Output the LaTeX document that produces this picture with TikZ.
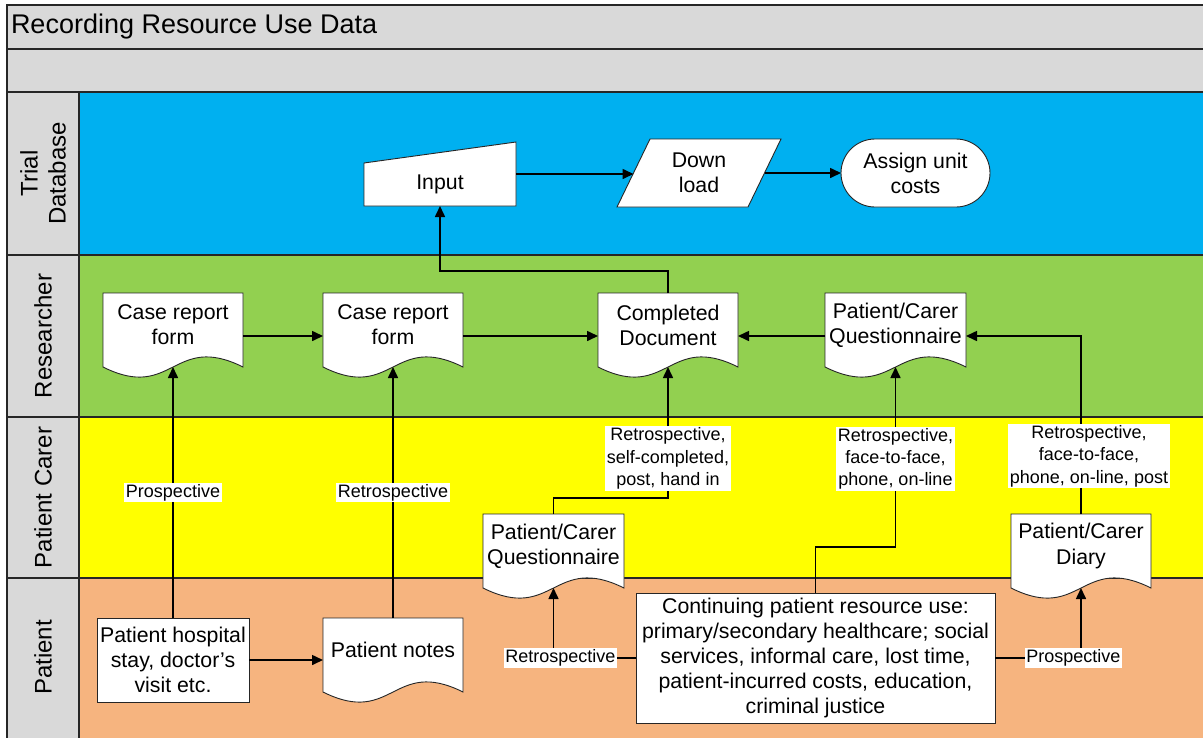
\documentclass[tikz,border=0pt]{standalone}
\usepackage{fontspec}
\setmainfont{Liberation Sans}
\usetikzlibrary{arrows.meta,calc}
\definecolor{lblue}{HTML}{00B0F0}
\definecolor{lgreen}{HTML}{92D050}
\definecolor{lyellow}{HTML}{FFFF00}
\definecolor{lorange}{HTML}{F6B47F}
\definecolor{lgray}{HTML}{D9D9D9}
\pgfdeclarelayer{lanes}
\pgfdeclarelayer{shapes}
\pgfsetlayers{lanes,shapes,main}
\newcommand\docpath[1]{%
  \draw[shapeline] (#1.north west) -- (#1.north east) -- ($(#1.south east)+(0,10)$)
    .. controls ($(#1.south)+(0,-25)$) and ($(#1.south)+(0,45)$) .. ($(#1.south west)+(0,10)$) -- cycle;
  \coordinate (#1-b) at ($(#1.south)+(0,10)$);}
\begin{document}
\begin{tikzpicture}[x=1pt,y=-1pt,
  every node/.style={font=\fontsize{21.3}{25.2}\selectfont, inner sep=0pt, outer sep=0pt, align=center},
  shapeline/.style={draw=black!85, line width=0.9pt, fill=white},
  docnode/.style={minimum width=#1, minimum height=64},
  boxnode/.style={shapeline},
  lbl/.style={fill=white, font=\fontsize{18}{22.4}\selectfont, inner sep=1.5pt},
  lanetext/.style={rotate=90, font=\fontsize{24}{28}\selectfont},
  conn/.style={line width=1.6pt, draw=black},
  arr/.style={conn, -{Triangle[length=11pt,width=10pt]}},
  laneline/.style={line width=1.1pt, draw=black!85}]
\useasboundingbox (0,0) rectangle (1203,737);
% lanes
\begin{pgfonlayer}{lanes}
\fill[lgray] (7,5) rectangle (1205,92);
\fill[lgray] (7,92) rectangle (79,739);
\fill[lblue] (79,92) rectangle (1205,255);
\fill[lgreen] (79,255) rectangle (1205,417);
\fill[lyellow] (79,417) rectangle (1205,578);
\fill[lorange] (79,578) rectangle (1205,739);
\draw[laneline] (7,739) -- (7,5) -- (1205,5);
\draw[laneline] (7,49) -- (1205,49);
\draw[laneline] (7,92) -- (1205,92);
\draw[laneline] (7,255) -- (1205,255);
\draw[laneline] (7,417) -- (1205,417);
\draw[laneline] (7,578) -- (1205,578);
\draw[laneline] (79,92) -- (79,739);
\end{pgfonlayer}
\node[anchor=west, font=\fontsize{27}{32}\selectfont] (title) at (11,27) {Recording Resource Use Data};
\node[lanetext] (lane1) at (43,173.5) {Trial\\Database};
\node[lanetext] (lane2) at (43,336) {Researcher};
\node[lanetext] (lane3) at (43,497.5) {Patient Carer};
\node[lanetext] (lane4) at (43,657.5) {Patient};
% Trial database lane
\node[minimum width=152, minimum height=64] (input) at (440,174) {};
\node (inputt) at (440,184) {Input};
\node[minimum width=131, minimum height=68] (dl) at (699,173) {Down\\load};
\node[shapeline, minimum width=149, minimum height=68, rounded corners=34pt] (assign) at (915.5,173) {Assign unit\\costs};
% Researcher lane
\node[docnode=140] (crf1) at (173,325) {Case report\\form};
\node[docnode=140] (crf2) at (393,325) {Case report\\form};
\node[docnode=140] (cdoc) at (668,325) {Completed\\Document};
\node[docnode=141] (pcqR) at (895.5,325) {Patient/Carer\\Questionnaire};
% Patient carer lane
\node[docnode=141] (pcqL) at (553.5,546) {Patient/Carer\\Questionnaire};
\node[docnode=140] (diary) at (1081,546) {Patient/Carer\\Diary};
% Patient lane
\node[shapeline, minimum width=152, minimum height=84] (hosp) at (173,660) {Patient hospital\\stay, doctor’s\\visit etc.};
\node[docnode=140] (notes) at (393,650) {Patient notes};
\node[shapeline, minimum width=359, minimum height=130] (cont) at (815.5,658) {Continuing patient resource use:\\primary/secondary healthcare; social\\services, informal care, lost time,\\patient-incurred costs, education,\\criminal justice};
% shapes
\begin{pgfonlayer}{shapes}
\draw[shapeline] (input.south west) -- ($(input.north west)+(0,21)$) -- (input.north east) -- (input.south east) -- cycle;
\draw[shapeline] ($(dl.south west)+(-16.5,0)$) -- ($(dl.north west)+(16.5,0)$) -- ($(dl.north east)+(16.5,0)$) -- ($(dl.south east)+(-16.5,0)$) -- cycle;
\docpath{crf1}
\docpath{crf2}
\docpath{cdoc}
\docpath{pcqR}
\docpath{pcqL}
\docpath{diary}
\docpath{notes}
\end{pgfonlayer}
% connectors
\draw[arr] (input.east) -- (input.east -| dl.west);
\draw[arr] (dl.east) -- (assign.west);
\draw[arr] (cdoc.north) -- ++(0,-22) -| (input.south);
\draw[arr] ($(crf1.east)+(0,11)$) -- ($(crf2.west)+(0,11)$);
\draw[arr] ($(crf2.east)+(0,11)$) -- ($(cdoc.west)+(0,11)$);
\draw[arr] ($(pcqR.west)+(0,11)$) -- ($(cdoc.east)+(0,11)$);
\draw[arr] (diary.north) |- node[lbl, pos=0.163, xshift=8pt] {Retrospective,\\face-to-face,\\phone, on-line, post} ($(pcqR.east)+(0,11)$);
\draw[arr] (cont.north) -- ++(0,-46) -| node[lbl, pos=0.745] {Retrospective,\\face-to-face,\\phone, on-line} (pcqR-b);
\draw[arr] (pcqL.north) -- ++(0,-16) -| node[lbl, pos=0.65] {Retrospective,\\self-completed,\\post, hand in} (cdoc-b);
\draw[arr] (hosp.north) -- node[lbl] {Prospective} (crf1-b);
\draw[arr] (notes.north) -- node[lbl] {Retrospective} (crf2-b);
\draw[arr] (hosp.east) -- (hosp.east -| notes.west);
\draw[arr] (cont.west) -| node[lbl, pos=0.458] {Retrospective} (pcqL-b);
\draw[arr] (cont.east) -| node[lbl, pos=0.456] {Prospective} (diary-b);
\end{tikzpicture}
\end{document}
